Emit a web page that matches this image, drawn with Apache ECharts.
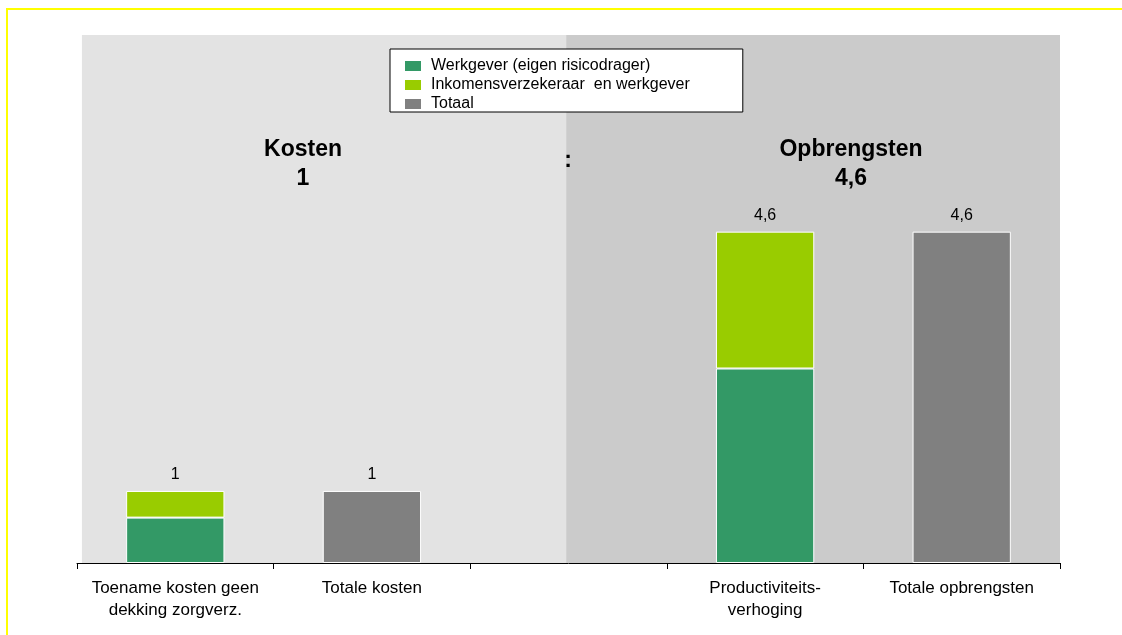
<!DOCTYPE html>
<html>
<head>
<meta charset="utf-8">
<style>
  html, body { margin: 0; padding: 0; background: #ffffff; }
  #chart { width: 1122px; height: 635px; }
</style>
<script src="https://cdn.jsdelivr.net/npm/echarts@6/dist/echarts.min.js"></script>
</head>
<body>
<div id="chart"></div>
<script>
// Categories along the x axis (the middle one is an empty spacer)
const categories = [
  'Toename kosten geen\ndekking zorgverz.',
  'Totale kosten',
  '',
  'Productiviteits-\nverhoging',
  'Totale opbrengsten'
];

// Series values per category (null = no bar)
const werkgever = [0.63, null, null, 2.7, null];
const inkomensverzekeraar = [0.37, null, null, 1.9, null];
const totaal = [null, 1, null, null, 4.6];

// Headline texts above the two halves
const kostenTitle = 'Kosten\n1';
const opbrengstenTitle = 'Opbrengsten\n4,6';

const seriesNames = [
  'Werkgever (eigen risicodrager)',
  'Inkomensverzekeraar  en werkgever',
  'Totaal'
];

const FONT = "'Liberation Sans', Arial, sans-serif";
const Y_MAX = 7.33;

// Dutch number format: decimal comma, at most one decimal
function nl(v) {
  const r = Math.round(v * 10) / 10;
  return String(r).replace('.', ',');
}

const chart = echarts.init(document.getElementById('chart'));

const barBase = {
  type: 'bar',
  stack: 'total',
  barWidth: '50%',
  xAxisIndex: 0,
  yAxisIndex: 0
};

const headStyle = { fontSize: 23, fontWeight: 'bold', lineHeight: 29, color: '#000000', fontFamily: FONT };

chart.setOption({
  animation: false,
  backgroundColor: '#ffffff',
  textStyle: { fontFamily: FONT },
  grid: { left: 77, right: 62, top: 35, bottom: 72 },
  xAxis: [
    {
      type: 'category',
      data: categories,
      axisLine: { lineStyle: { color: '#000000', width: 1 } },
      axisTick: { show: true, length: 6, lineStyle: { color: '#000000' } },
      axisLabel: {
        color: '#000000',
        fontSize: 17,
        lineHeight: 22,
        margin: 14,
        interval: 0,
        fontFamily: FONT
      },
      splitLine: { show: false },
      z: 10
    },
    {
      // helper axis spanning the five category bands, used for the two shaded halves
      type: 'value',
      min: 0,
      max: 5,
      show: false
    }
  ],
  yAxis: {
    type: 'value',
    min: 0,
    max: Y_MAX,
    show: false,
    splitLine: { show: false }
  },
  legend: {
    orient: 'vertical',
    left: 390,
    top: 49,
    padding: [9, 53, 0, 15],
    itemGap: 3,
    itemWidth: 16,
    itemHeight: 10,
    backgroundColor: '#ffffff',
    borderColor: '#000000',
    borderWidth: 1,
    icon: 'rect',
    itemStyle: { borderWidth: 0 },
    textStyle: {
      color: '#000000',
      fontSize: 16,
      lineHeight: 16,
      padding: [0, 0, 0, 5],
      fontFamily: FONT
    },
    data: seriesNames,
    selectedMode: false,
    z: 20
  },
  title: [
    { text: kostenTitle, left: 298, top: 130, textAlign: 'center', textStyle: headStyle },
    { text: ':', left: 563, top: 141, textAlign: 'center', textStyle: headStyle },
    { text: opbrengstenTitle, left: 846, top: 130, textAlign: 'center', textStyle: headStyle }
  ],
  graphic: [
    {
      // yellow frame around the whole figure
      type: 'rect',
      shape: { x: 7, y: 9, width: 1140, height: 650 },
      style: { fill: 'none', stroke: '#ffff00', lineWidth: 2 },
      silent: true,
      z: 100
    }
  ],
  series: [
    {
      // shaded backgrounds: costs (left) and revenues (right)
      type: 'line',
      xAxisIndex: 1,
      yAxisIndex: 0,
      data: [],
      silent: true,
      z: 0,
      markArea: {
        silent: true,
        data: [
          [
            { xAxis: 0.025, yAxis: 0, itemStyle: { color: '#e3e3e3' } },
            { xAxis: 2.488, yAxis: Y_MAX }
          ],
          [
            { xAxis: 2.488, yAxis: 0, itemStyle: { color: '#cbcbcb' } },
            { xAxis: 5, yAxis: Y_MAX }
          ]
        ]
      }
    },
    Object.assign({}, barBase, {
      name: seriesNames[0],
      data: werkgever,
      itemStyle: { color: '#339966', borderColor: '#ffffff', borderWidth: 1 },
      z: 5
    }),
    Object.assign({}, barBase, {
      name: seriesNames[1],
      data: inkomensverzekeraar,
      itemStyle: { color: '#99cc00', borderColor: '#ffffff', borderWidth: 1 },
      label: {
        show: true,
        position: 'top',
        distance: 8,
        color: '#000000',
        fontSize: 16,
        fontFamily: FONT,
        formatter: function (p) {
          const i = p.dataIndex;
          return nl((werkgever[i] || 0) + (inkomensverzekeraar[i] || 0));
        }
      },
      z: 5
    }),
    Object.assign({}, barBase, {
      name: seriesNames[2],
      data: totaal,
      itemStyle: { color: '#808080', borderColor: '#ffffff', borderWidth: 1 },
      label: {
        show: true,
        position: 'top',
        distance: 8,
        color: '#000000',
        fontSize: 16,
        fontFamily: FONT,
        formatter: function (p) { return nl(p.value); }
      },
      z: 5
    })
  ]
});
</script>
</body>
</html>
